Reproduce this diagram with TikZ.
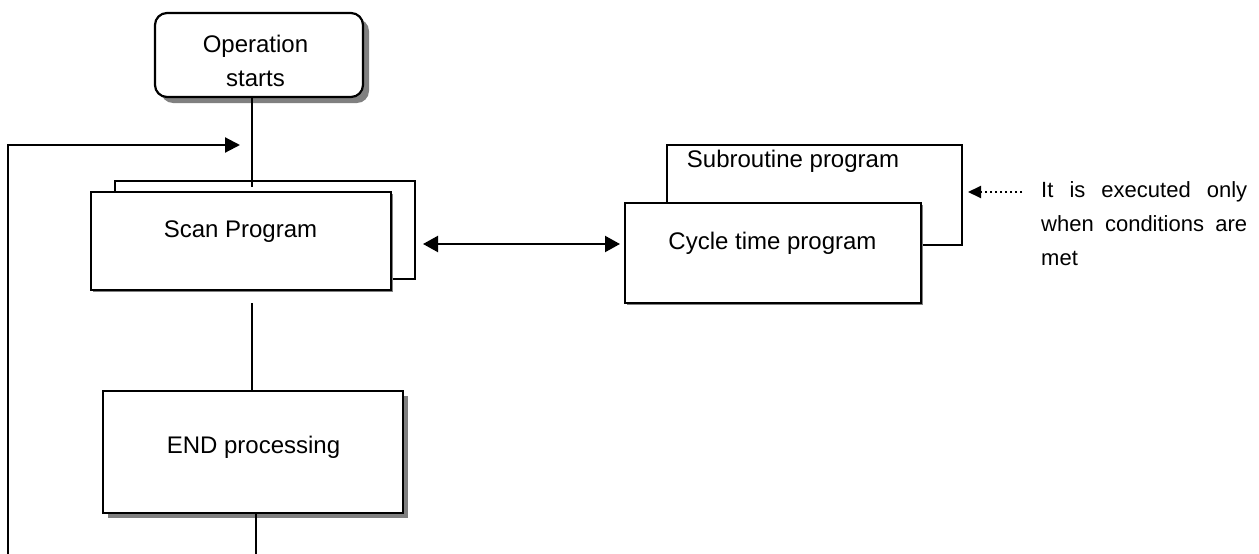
\documentclass[tikz,border=0pt]{standalone}
\usepackage{fontspec}
\setmainfont{Liberation Sans}
\usetikzlibrary{arrows.meta,shadows}
\begin{document}
\begin{tikzpicture}[x=1pt,y=-1pt,
  ln/.style={line width=2.2pt},
  rect/.style={draw, line width=2.2pt, fill=white, inner sep=0pt, outer sep=0pt, anchor=north west},
  txt/.style={inner sep=0pt, anchor=base, font=\fontsize{24}{35}\selectfont},
  tip/.style={-{Triangle[length=15pt,width=15pt]}},
  sh/.style={drop shadow={shadow xshift=#1, shadow yshift=-#1, fill=black!50, opacity=1}},
]
\useasboundingbox (0,0) rectangle (1259,554);

% Operation starts
\node[rect, rounded corners=12pt, minimum width=208pt, minimum height=84pt, sh=6pt] (op) at (155,13) {};
\node[inner sep=0pt, anchor=base, font=\fontsize{24}{35}\selectfont] (opT) at (255.5,52)
  {\vtop{\baselineskip=35pt\hbox to 0pt{\hss Operation\hss}\hbox to 0pt{\hss starts\hss}}};

% Scan program
\node[rect, minimum width=300pt, minimum height=98pt] (scanback) at (115,181) {};
\coordinate (j1) at (252,187);
\draw[ln] (op.south -| j1) -- (j1);
\node[rect, minimum width=300pt, minimum height=98pt, sh=2pt] (scan) at (91,192) {};
\node[txt] (scanT) at (240.5,237) {Scan Program};

% END processing
\node[rect, minimum width=300pt, minimum height=122pt, sh=5pt] (endp) at (103,391) {};
\node[txt] (endT) at (253.5,453) {END processing};
\coordinate (j2) at (252,303);
\draw[ln] (j2) -- (j2 |- endp.north);
\coordinate (j3) at (256,554);
\draw[ln] (endp.south -| j3) -- (j3);

% loop back
\coordinate (lp0) at (8,554);
\coordinate (lp1) at (240,145);
\draw[ln, tip] (lp0) |- (lp1);

% Subroutine / cycle time
\node[rect, minimum width=295pt, minimum height=100pt] (subback) at (667,145) {};
\node[txt] (subT) at (793,167) {Subroutine program};
\node[rect, minimum width=296pt, minimum height=100pt, sh=2pt] (cyc) at (625,203) {};
\node[txt] (cycT) at (772.5,249) {Cycle time program};

% double arrow
\coordinate (da) at (0,244);
\draw[ln, {Triangle[length=15pt,width=16pt]}-{Triangle[length=15pt,width=16pt]}, shorten <=8pt, shorten >=5pt]
  (scanback.east |- da) -- (cyc.west |- da);

% note
\node[inner sep=0pt, anchor=base west, font=\fontsize{22}{34}\selectfont] (note) at (1041,197)
  {\vtop{\baselineskip=34pt
   \hbox to 206pt{It \hfill is \hfill executed \hfill only}
   \hbox to 206pt{when \hfill conditions \hfill are}
   \hbox{met}}};
\coordinate (na) at (1022,192);
\draw[line width=2pt, dash pattern=on 2pt off 3pt, -{Triangle[length=13pt,width=12pt]}, shorten >=6pt]
  (na) -- (subback.east |- na);
\end{tikzpicture}
\end{document}
